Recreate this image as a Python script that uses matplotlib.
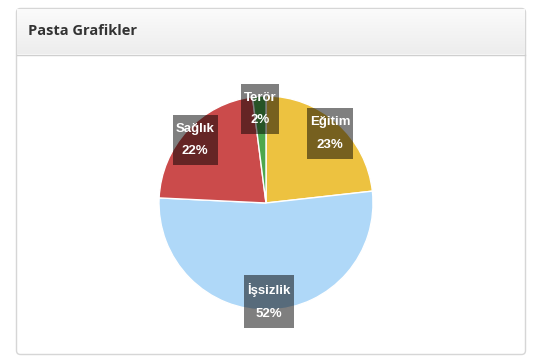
import numpy as np
import matplotlib
matplotlib.use("Agg")
import matplotlib.pyplot as plt
from matplotlib.patches import FancyBboxPatch, Rectangle
from matplotlib.colors import LinearSegmentedColormap

categories = ["Eğitim", "İşsizlik", "Sağlık", "Terör"]
values = [23, 52, 22, 2]
colors = ["#edc240", "#afd8f8", "#cb4b4b", "#4da74d"]
title = "Pasta Grafikler"

W, H = 538, 363
fig = plt.figure(figsize=(W / 100, H / 100), dpi=100)
fig.patch.set_facecolor("white")

def fx(px):
    return px / W

def fy(py):
    return 1 - py / H

# card
bg = fig.add_axes([0, 0, 1, 1])
bg.axis("off")
card = FancyBboxPatch((16.5, 8.5), 509, 346, boxstyle="round,pad=0,rounding_size=4",
                      facecolor="white", edgecolor="#d6d6d6", linewidth=1)
bg.add_patch(card)
grad = np.linspace(0, 1, 50).reshape(-1, 1)
cmap = LinearSegmentedColormap.from_list("g", ["#fbfbfb", "#ededed"])
bg.imshow(grad, extent=(17, 525, 54, 9), cmap=cmap, aspect="auto", zorder=1)
bg.plot([17, 525], [54.5, 54.5], color="#cfcfcf", lw=1, zorder=2)
bg.text(28, 31, title, fontsize=10.5, fontweight="bold", color="#333333",
        family=["Open Sans", "DejaVu Sans"], va="center", ha="left", zorder=3)
bg.set_xlim(0, W)
bg.set_ylim(H, 0)

# pie
cx, cy, r = 266, 203, 107
ax = fig.add_axes([fx(cx - r), fy(cy + r), 2 * r / W, 2 * r / H])
wedges, _ = ax.pie(values, colors=colors, startangle=90, counterclock=False,
                   wedgeprops=dict(edgecolor="white", linewidth=1))
ax.set_xlim(-1, 1)
ax.set_ylim(-1, 1)
ax.set_aspect("auto")

total = sum(values)
start = 0.0
texts = []
for cat, v in zip(categories, values):
    frac = v / total
    mid = (start + frac / 2) * 2 * np.pi
    start += frac
    x = 0.9 * np.sin(mid)
    y = 0.9 * np.cos(mid) - 0.02
    t = ax.text(x, y, f"{cat}\n{v}%", ha="center", va="center", color="white",
                fontsize=9.5, fontweight="bold", linespacing=2.15,
                family=["Liberation Sans", "DejaVu Sans"], zorder=5)
    texts.append(t)

fig.canvas.draw()
renderer = fig.canvas.get_renderer()
for t in texts:
    bb = t.get_window_extent(renderer)
    padx, pady = 3, 8
    x0, y0 = bb.x0 - padx, bb.y0 - pady
    w, h = bb.width + 2 * padx, bb.height + 2 * pady
    rect = Rectangle((x0 / W, y0 / H), w / W, h / H, transform=fig.transFigure,
                     facecolor="black", alpha=0.5, edgecolor="none", zorder=4)
    fig.add_artist(rect)
    t.set_zorder(6)
    t.remove()
    fig.add_artist(t)

fig.savefig("out.png", dpi=100)
